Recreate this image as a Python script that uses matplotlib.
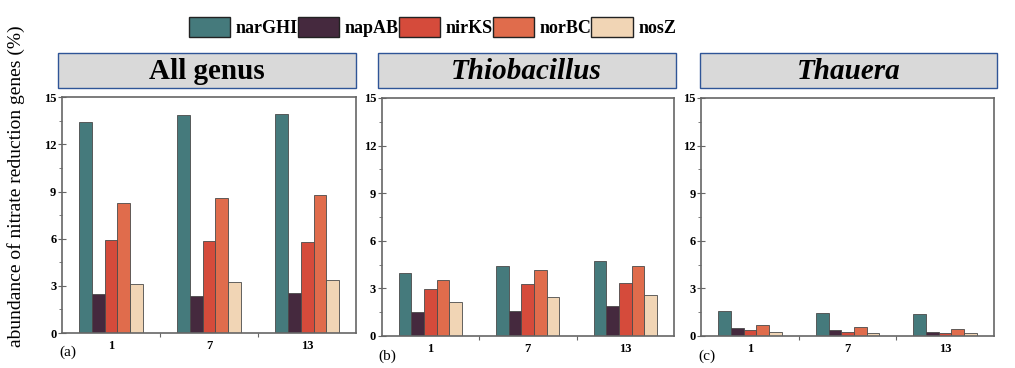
"""Nitrate reduction gene abundance, grouped bars in three panels"""
import matplotlib.pyplot as plt
from matplotlib.patches import Rectangle, Patch
from matplotlib.ticker import MultipleLocator, FixedLocator

plt.rcParams["font.family"] = ["Liberation Serif", "DejaVu Serif"]

days = ["1", "7", "13"]
genes = ["narGHI", "napAB", "nirKS", "norBC", "nosZ"]
gene_colors = ["#457a7c", "#45293e", "#d54b3b", "#e06c4c", "#f1d5b5"]

panel_titles = ["All genus", "Thiobacillus", "Thauera"]
panel_styles = ["normal", "italic", "italic"]
panel_tags = ["(a)", "(b)", "(c)"]

# values per gene, one entry per day (1, 7, 13)
all_genus = {
    "narGHI": [13.40, 13.86, 13.94],
    "napAB": [2.51, 2.35, 2.56],
    "nirKS": [5.94, 5.83, 5.81],
    "norBC": [8.28, 8.58, 8.77],
    "nosZ": [3.15, 3.27, 3.38],
}
thiobacillus = {
    "narGHI": [3.94, 4.44, 4.70],
    "napAB": [1.50, 1.56, 1.90],
    "nirKS": [2.93, 3.27, 3.35],
    "norBC": [3.50, 4.15, 4.40],
    "nosZ": [2.11, 2.44, 2.57],
}
thauera = {
    "narGHI": [1.60, 1.43, 1.39],
    "napAB": [0.51, 0.36, 0.27],
    "nirKS": [0.36, 0.25, 0.19],
    "norBC": [0.72, 0.55, 0.44],
    "nosZ": [0.27, 0.21, 0.17],
}
panels = [all_genus, thiobacillus, thauera]

fig = plt.figure(figsize=(10.15, 3.68), dpi=100)

# axes boxes in figure fractions: left, bottom, width, height
ax_boxes = [
    (0.061, 0.095, 0.290, 0.641),
    (0.376, 0.087, 0.288, 0.647),
    (0.691, 0.087, 0.288, 0.647),
]
title_boxes = [(0.057, 0.294), (0.372, 0.294), (0.690, 0.292)]

bar_w = 0.13
spine_color = "#666666"

for i, data in enumerate(panels):
    ax = fig.add_axes(ax_boxes[i])
    for j, gene in enumerate(genes):
        xs = [k + (j - 2) * bar_w for k in range(len(days))]
        ax.bar(xs, data[gene], width=bar_w, color=gene_colors[j],
               edgecolor="#4a4a4a", linewidth=0.6)
    ax.set_xlim(-0.5, 2.5)
    ax.set_ylim(0, 15)
    ax.yaxis.set_major_locator(MultipleLocator(3))
    ax.yaxis.set_minor_locator(MultipleLocator(1.5))
    ax.xaxis.set_major_locator(FixedLocator(range(len(days))))
    ax.xaxis.set_minor_locator(FixedLocator([0.5, 1.5]))
    ax.set_xticklabels(days)
    ax.tick_params(axis="y", which="major", direction="inout", length=6,
                   width=0.8, color=spine_color, labelsize=9, pad=1)
    ax.tick_params(axis="y", which="minor", direction="out", length=2.5,
                   width=0.6, color=spine_color)
    ax.tick_params(axis="x", which="major", length=0, labelsize=9, pad=5)
    ax.tick_params(axis="x", which="minor", direction="out", length=3,
                   width=0.8, color=spine_color)
    for lab in ax.get_xticklabels() + ax.get_yticklabels():
        lab.set_fontweight("bold")
    for sp in ax.spines.values():
        sp.set_color(spine_color)
        sp.set_linewidth(1.2)
    ax.text(-0.01, -0.055, panel_tags[i], transform=ax.transAxes,
            fontsize=11, ha="left", va="top")

    # title box above the panel
    x0, w = title_boxes[i]
    fig.patches.append(Rectangle((x0, 0.761), w, 0.095, transform=fig.transFigure,
                                 facecolor="#d9d9d9", edgecolor="#2f5597",
                                 linewidth=1.0))
    fig.text(x0 + w / 2, 0.806, panel_titles[i], fontsize=21, fontweight="bold",
             style=panel_styles[i], ha="center", va="center")

fig.text(0.016, 0.495, "abundance of nitrate reduction genes (%)", rotation=90,
         fontsize=14, ha="center", va="center")

handles = [Patch(facecolor=c, edgecolor="#222222", linewidth=1.0)
           for c in gene_colors]
fig.legend(handles, genes, loc="center", bbox_to_anchor=(0.426, 0.927), ncol=5,
           frameon=False, handlelength=2.3, handleheight=1.3, handletextpad=0.3,
           columnspacing=0.0, borderpad=0.2,
           prop={"size": 13, "weight": "bold"})

fig.savefig("out.png", dpi=100)
